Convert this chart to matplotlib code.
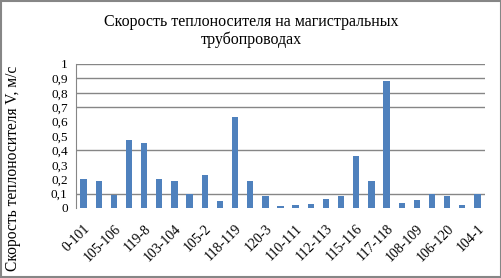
import matplotlib
matplotlib.use("Agg")
import matplotlib.pyplot as plt
import numpy as np

# участки трубопроводов (подписаны через один, как в исходнике)
sections = ["0-101", "", "105-106", "", "119-8", "", "103-104", "", "105-2", "",
            "118-119", "", "120-3", "", "110-111", "", "112-113", "", "115-116", "",
            "117-118", "", "108-109", "", "106-120", "", "104-1"]
# скорость теплоносителя, м/с
speed = [0.20, 0.19, 0.09, 0.47, 0.45, 0.20, 0.19, 0.10, 0.23, 0.05,
         0.63, 0.19, 0.08, 0.015, 0.02, 0.025, 0.06, 0.08, 0.36, 0.19,
         0.88, 0.035, 0.055, 0.10, 0.08, 0.02, 0.10]
yticks = [0, 0.1, 0.2, 0.3, 0.4, 0.5, 0.6, 0.7, 0.8, 0.9, 1.0]
ytick_labels = ["0", "0,1", "0,2", "0,3", "0,4", "0,5", "0,6", "0,7", "0,8", "0,9", "1"]
# линии сетки, видимые на картинке
grid_levels = [0.1, 0.4, 0.7, 0.8, 0.9, 1.0]

plt.rcParams['font.family'] = ['Liberation Serif', 'DejaVu Serif']

fig = plt.figure(figsize=(5.02, 2.78), dpi=100)
ax = fig.add_axes([76/502, 1-208/278, (485-76)/502, (208-64)/278])

x = np.arange(len(speed))
for g in grid_levels:
    ax.axhline(g, color="#868686", lw=1, zorder=0)
ax.bar(x, speed, width=0.42, color="#4F81BD", zorder=2)

ax.set_xlim(-0.5, len(speed)-0.5)
ax.set_ylim(0, 1)
ax.set_yticks(yticks)
ax.set_yticklabels(ytick_labels, fontsize=9.5)
ax.set_xticks(x)
ax.set_xticklabels(sections, rotation=45, ha="right", rotation_mode="anchor", fontsize=10)
ax.tick_params(axis="both", length=0, pad=6)
ax.tick_params(axis="x", pad=10)

for s in ["top", "right", "bottom"]:
    ax.spines[s].set_visible(False)
ax.spines["left"].set_color("#868686")

fig.text(0.5, 1-31/278, "Скорость теплоносителя на магистральных\nтрубопроводах",
         ha="center", va="center", fontsize=11.5, linespacing=1.15)
fig.text(13/502, 1-168/278, "Скорость теплоносителя V, м/с", rotation=90,
         ha="center", va="center", fontsize=11.2)

# рамка вокруг диаграммы
fig.patches.append(plt.Rectangle((0.001, 0.002), 0.997, 0.996, transform=fig.transFigure,
                                 fill=False, edgecolor="#868686", lw=1.5))

fig.savefig("out.png", dpi=100)
